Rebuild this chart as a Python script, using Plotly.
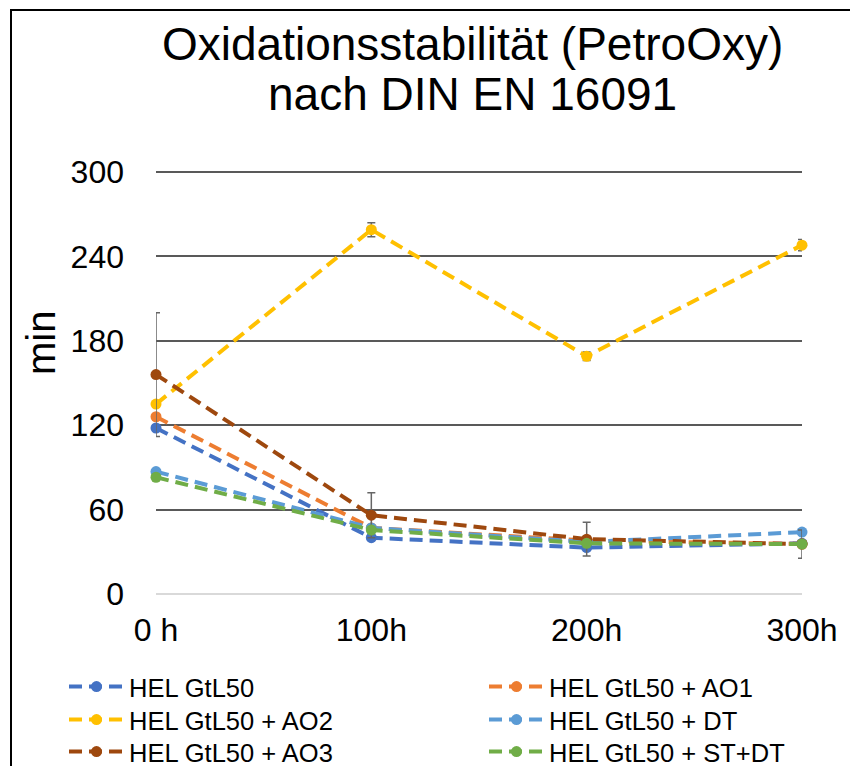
import plotly.graph_objects as go

# ---------------- data ----------------
x_labels = ["0 h", "100h", "200h", "300h"]
x_pos = [0, 1, 2, 3]

series_names = [
    "HEL GtL50",
    "HEL GtL50 + AO1",
    "HEL GtL50 + AO2",
    "HEL GtL50 + DT",
    "HEL GtL50 + AO3",
    "HEL GtL50 + ST+DT",
]
gtl50 = [118, 40, 33, 36]
gtl50_ao1 = [126, 47, 38, 35.5]
gtl50_ao2 = [135, 259, 169, 248]
gtl50_dt = [87, 47, 37, 44]
gtl50_ao3 = [156, 56, 39, 35.5]
gtl50_stdt = [83, 45.5, 36, 35.5]

err_ao2 = [2, 5, 3, 4]
err_ao3 = [44, 16, 12, 10]

y_ticks = [0, 60, 120, 180, 240, 300]

colors = ["#4472C4", "#ED7D31", "#FFC000", "#5B9BD5", "#9E480E", "#70AD47"]

# ---------------- layout helpers ----------------
# The page body adds an 8px offset; target positions are given in page pixels.
W, H = 858, 766
OFF = 8
PLOT_LEFT, PLOT_RIGHT = 156, 802          # page px
GRID_TOP, PLOT_BOTTOM = 172, 594          # page px (300 line, 0 line)
PLOT_TOP = 168                            # a bit above the 300 line so it is drawn
L = PLOT_LEFT - OFF
T = PLOT_TOP - OFF
PW = PLOT_RIGHT - PLOT_LEFT
PH = PLOT_BOTTOM - PLOT_TOP
R = W - L - PW
B = H - T - PH
YMAX = 300 * PH / (PLOT_BOTTOM - GRID_TOP)


def xp(px):
    return (px - PLOT_LEFT) / PW


def yp(py):
    return (PLOT_BOTTOM - py) / PH


values = [gtl50, gtl50_ao1, gtl50_ao2, gtl50_dt, gtl50_ao3, gtl50_stdt]
errors = [None, None, err_ao2, None, err_ao3, None]

fig = go.Figure()

legend_ids = ["legend", "legend2", "legend3", "legend4", "legend5", "legend6"]
legend_px = [(64, 687), (484, 687), (64, 720), (484, 720), (64, 752), (484, 752)]

for i, (name, vals, err) in enumerate(zip(series_names, values, errors)):
    tr = dict(
        x=x_pos,
        y=vals,
        name=name,
        mode="lines+markers",
        line=dict(color=colors[i], width=4, dash="13px,7px"),
        marker=dict(color=colors[i], size=11),
        cliponaxis=False,
        legend=legend_ids[i],
    )
    if err is not None:
        tr["error_y"] = dict(type="data", array=err, visible=True,
                             color="#666666", thickness=1.5, width=4)
    fig.add_trace(go.Scatter(**tr))

layout_legends = {}
for i, lid in enumerate(legend_ids):
    lx, ly = legend_px[i]
    layout_legends[lid] = dict(
        x=xp(lx), y=yp(ly), xanchor="left", yanchor="middle",
        orientation="v", bgcolor="rgba(0,0,0,0)",
        font=dict(family="Liberation Sans, Arial, sans-serif", size=25.5, color="#000000"),
        itemwidth=55, tracegroupgap=0,
    )

fig.update_layout(
    width=W, height=H,
    margin=dict(l=L, r=R, t=T, b=B, autoexpand=False),
    paper_bgcolor="white", plot_bgcolor="white",
    showlegend=True,
    font=dict(family="Liberation Sans, Arial, sans-serif", color="#000000"),
    **layout_legends,
)

fig.update_xaxes(
    range=[0, 3], tickvals=x_pos, ticktext=x_labels,
    showgrid=False, zeroline=False, showline=False, ticks="",
    tickfont=dict(size=32, color="#000000"), ticklabelstandoff=14,
    automargin=False,
)
fig.update_yaxes(
    range=[0, YMAX], tickvals=y_ticks,
    showgrid=True, gridcolor="#595959", gridwidth=1.5,
    zeroline=True, zerolinecolor="#D9D9D9", zerolinewidth=2,
    showline=False, ticks="",
    tickfont=dict(size=32, color="#000000"), ticklabelstandoff=31,
    automargin=False,
)

# title lines and y label
fig.add_annotation(text="Oxidationsstabilität (PetroOxy)", xref="paper", yref="paper",
                   x=xp(472), y=yp(44), showarrow=False, xanchor="center", yanchor="middle",
                   font=dict(size=46, color="#000000"))
fig.add_annotation(text="nach DIN EN 16091", xref="paper", yref="paper",
                   x=xp(472), y=yp(94), showarrow=False, xanchor="center", yanchor="middle",
                   font=dict(size=46, color="#000000"))
fig.add_annotation(text="min", xref="paper", yref="paper", textangle=-90,
                   x=xp(41), y=yp(343), showarrow=False, xanchor="center", yanchor="middle",
                   font=dict(size=40, color="#000000"))

# chart border
fig.add_shape(type="rect", xref="paper", yref="paper",
              x0=xp(11), y0=yp(10), x1=xp(880), y1=yp(790),
              line=dict(color="#000000", width=2), fillcolor="rgba(0,0,0,0)", layer="above")

fig.write_html("out.html")
